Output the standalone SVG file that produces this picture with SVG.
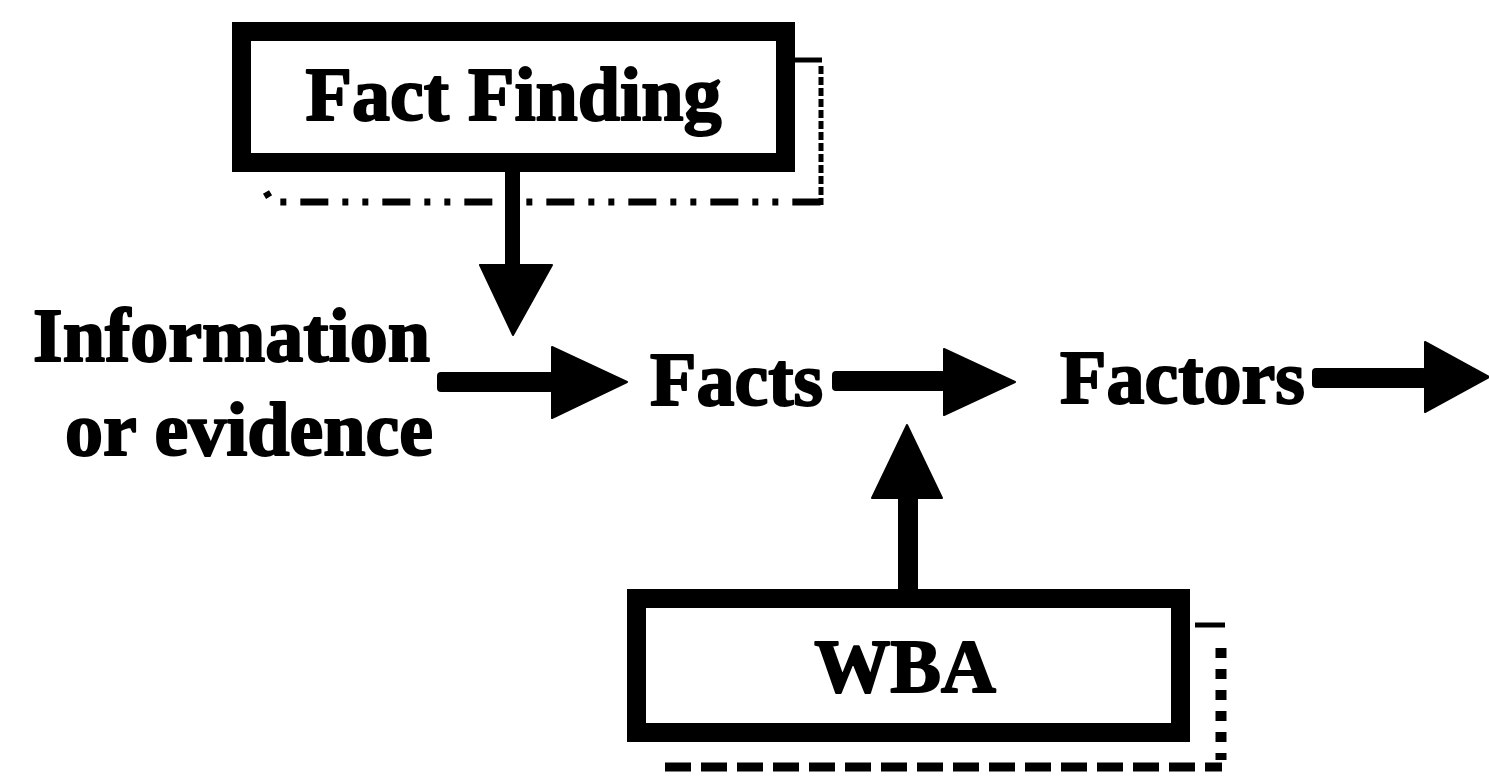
<svg xmlns="http://www.w3.org/2000/svg" width="1489" height="778" viewBox="0 0 1489 778">
  <style>
    .box { fill: #fff; stroke: #000; stroke-width: 19; }
    .lbl { font-family: "Liberation Serif", "Times New Roman", serif; font-weight: bold; font-size: 76px; fill: #000; stroke: #000; stroke-width: 2; stroke-linejoin: round; }
    .shaft { fill: #000; }
    .head { fill: #000; stroke: #000; stroke-width: 2; stroke-linejoin: round; }
    .shadow { fill: none; stroke: #000; }
  </style>
  <rect width="1489" height="778" fill="#fff"/>

  <!-- Fact Finding box with its broken drop shadow -->
  <g id="fact-finding">
    <path class="shadow" d="M795 60 H822" stroke-width="5"/>
    <path class="shadow" d="M821 66 V205" stroke-width="5" stroke-dasharray="8 3"/>
    <path class="shadow" d="M266 192 L272 202 H821" stroke-width="7" stroke-dasharray="6 14 6 14 28 14"/>
    <rect class="box" x="241.5" y="31.5" width="544" height="131"/>
    <text class="lbl" x="513.5" y="120" text-anchor="middle">Fact Finding</text>
  </g>

  <!-- Plain labels -->
  <g id="information">
    <text class="lbl" x="430" y="361" text-anchor="end">Information</text>
    <text class="lbl" x="433" y="455" text-anchor="end">or evidence</text>
  </g>
  <g id="facts">
    <text class="lbl" x="650" y="405">Facts</text>
  </g>
  <g id="factors">
    <text class="lbl" x="1060" y="403">Factors</text>
  </g>

  <!-- WBA box with its dashed drop shadow -->
  <g id="wba">
    <path class="shadow" d="M1195 625 H1225" stroke-width="5"/>
    <path class="shadow" d="M1221 648 V760" stroke-width="11" stroke-dasharray="10 11"/>
    <path class="shadow" d="M665 767 H1222" stroke-width="9" stroke-dasharray="26 10"/>
    <rect class="box" x="636.5" y="598.5" width="544" height="134"/>
    <text class="lbl" x="905" y="692" text-anchor="middle">WBA</text>
  </g>

  <!-- Connectors -->
  <g id="connectors">
    <!-- Fact Finding down to the evidence arrow -->
    <rect class="shaft" x="505" y="170" width="15" height="97"/>
    <polygon class="head" points="480,265 552,265 513,335"/>
    <!-- Information or evidence to Facts -->
    <rect class="shaft" x="437" y="372" width="117" height="20" rx="4"/>
    <polygon class="head" points="552,347 627,382 552,418"/>
    <!-- Facts to Factors -->
    <rect class="shaft" x="832" y="371" width="114" height="20" rx="4"/>
    <polygon class="head" points="944,349 1015,382 944,415"/>
    <!-- Factors onward -->
    <rect class="shaft" x="1312" y="368" width="115" height="20" rx="4"/>
    <polygon class="head" points="1425,342 1489,377 1425,412"/>
    <!-- WBA up to Facts -->
    <rect class="shaft" x="898" y="496" width="20" height="96"/>
    <polygon class="head" points="872,498 942,498 907,425"/>
  </g>
</svg>
